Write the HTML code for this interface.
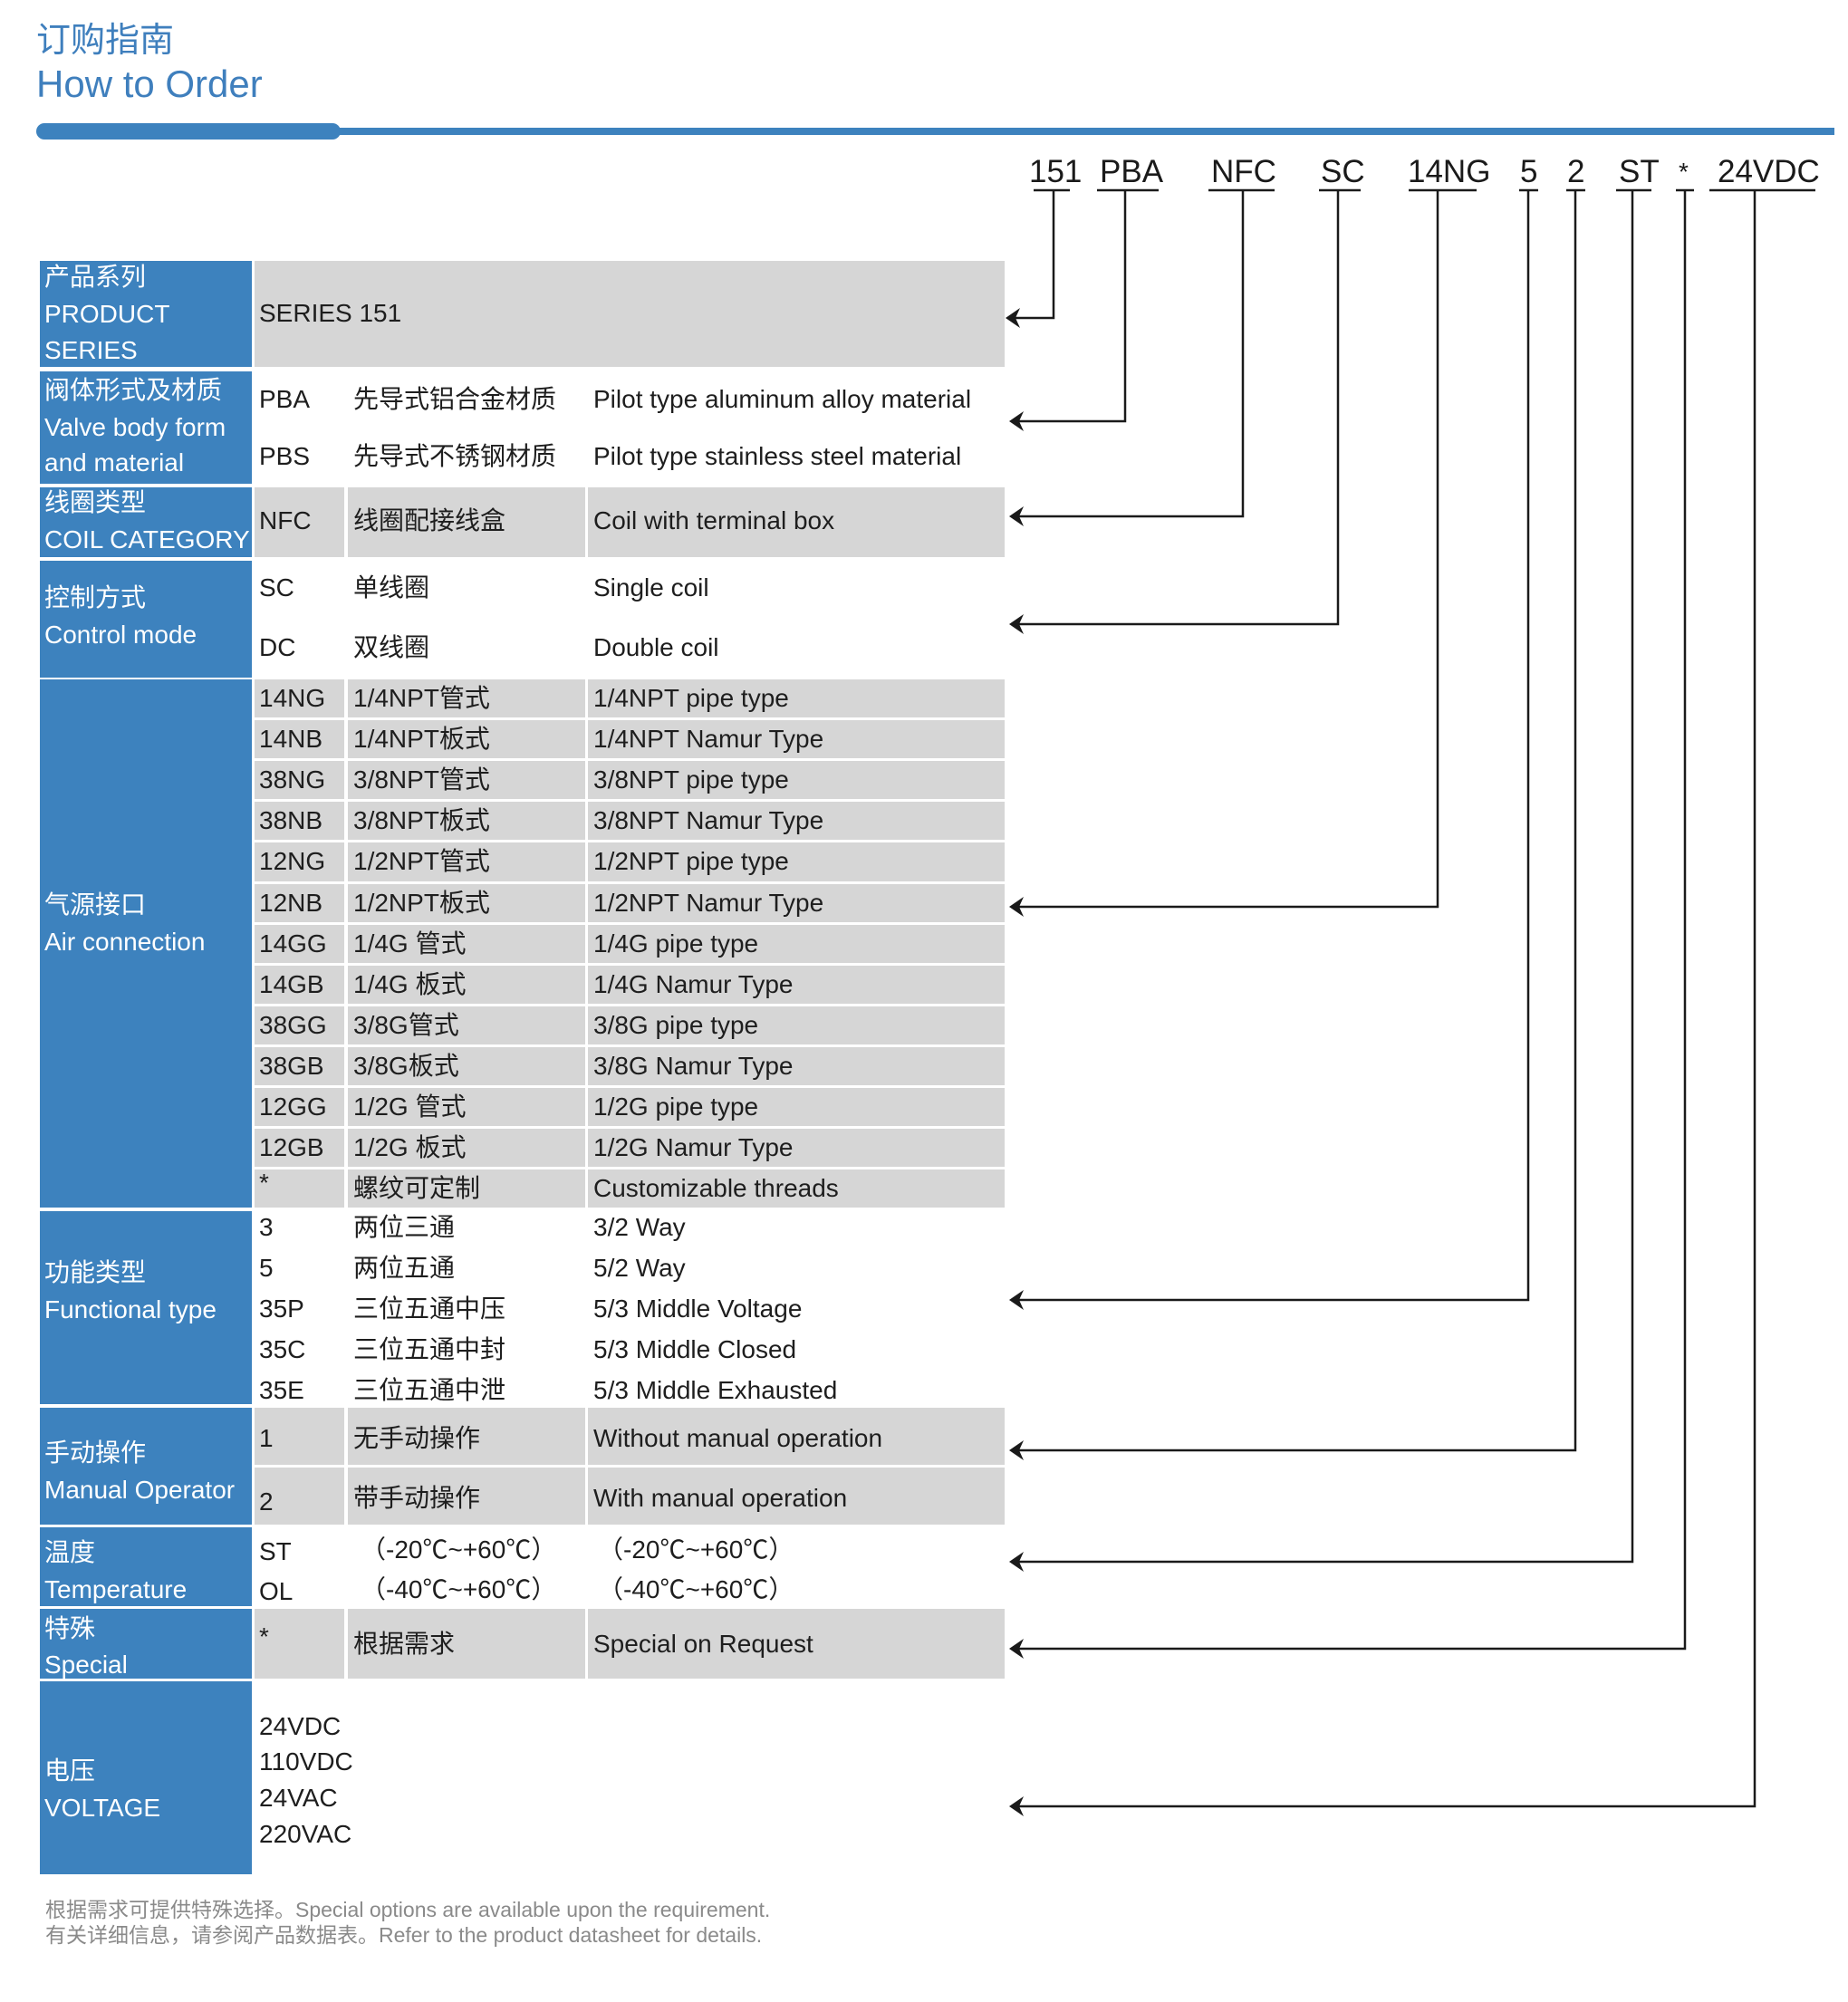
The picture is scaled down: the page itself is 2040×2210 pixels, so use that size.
<!DOCTYPE html>
<html><head><meta charset="utf-8"><style>
body{margin:0;width:2040px;height:2210px;background:#fff;position:relative;overflow:hidden;font-family:"Liberation Sans","Noto Sans CJK SC",sans-serif}
.b{position:absolute;background:#3d82be;left:44px;width:234px}
.g{position:absolute;background:#d6d6d6}
.t{position:absolute;font-size:28px;line-height:40px;height:40px;white-space:nowrap;color:#1e1e1e}
.w{color:#fff}
.c{position:absolute;font-size:35px;line-height:40px;top:170px;color:#1a1a1a;white-space:nowrap}
</style></head><body>
<div style="position:absolute;left:40px;top:22px;font-size:38px;line-height:46px;color:#3f7fbd">订购指南</div>
<div style="position:absolute;left:40px;top:68px;font-size:42px;line-height:50px;color:#3f7fbd">How to Order</div>
<div style="position:absolute;left:40px;top:136px;width:336px;height:18px;background:#3d82be;border-radius:9px"></div>
<div style="position:absolute;left:360px;top:141px;width:1665px;height:8px;background:#3d82be"></div>

<div class="c" style="left:1136px">151</div>
<div class="c" style="left:1214px">PBA</div>
<div class="c" style="left:1337px">NFC</div>
<div class="c" style="left:1458px">SC</div>
<div class="c" style="left:1554px">14NG</div>
<div class="c" style="left:1678px">5</div>
<div class="c" style="left:1730px">2</div>
<div class="c" style="left:1787px">ST</div>
<div class="c" style="left:1853px;font-size:28px">*</div>
<div class="c" style="left:1896px">24VDC</div>

<div class="b" style="top:288px;height:117px"></div>
<div class="b" style="top:410px;height:124px"></div>
<div class="b" style="top:538px;height:77px"></div>
<div class="b" style="top:619px;height:129px"></div>
<div class="b" style="top:750px;height:583px"></div>
<div class="b" style="top:1337px;height:213px"></div>
<div class="b" style="top:1554px;height:129px"></div>
<div class="b" style="top:1686px;height:87px"></div>
<div class="b" style="top:1776px;height:77px"></div>
<div class="b" style="top:1856px;height:213px"></div>

<div class="t w" style="left:49px;top:286px">产品系列</div>
<div class="t w" style="left:49px;top:327px">PRODUCT</div>
<div class="t w" style="left:49px;top:367px">SERIES</div>
<div class="t w" style="left:49px;top:411px">阀体形式及材质</div>
<div class="t w" style="left:49px;top:452px">Valve body form</div>
<div class="t w" style="left:49px;top:491px">and material</div>
<div class="t w" style="left:49px;top:535px">线圈类型</div>
<div class="t w" style="left:49px;top:576px">COIL CATEGORY</div>
<div class="t w" style="left:49px;top:640px">控制方式</div>
<div class="t w" style="left:49px;top:681px">Control mode</div>
<div class="t w" style="left:49px;top:979px">气源接口</div>
<div class="t w" style="left:49px;top:1020px">Air connection</div>
<div class="t w" style="left:49px;top:1385px">功能类型</div>
<div class="t w" style="left:49px;top:1426px">Functional type</div>
<div class="t w" style="left:49px;top:1584px">手动操作</div>
<div class="t w" style="left:49px;top:1625px">Manual Operator</div>
<div class="t w" style="left:49px;top:1694px">温度</div>
<div class="t w" style="left:49px;top:1735px">Temperature</div>
<div class="t w" style="left:49px;top:1778px">特殊</div>
<div class="t w" style="left:49px;top:1818px">Special</div>
<div class="t w" style="left:49px;top:1935px">电压</div>
<div class="t w" style="left:49px;top:1976px">VOLTAGE</div>

<div class="g" style="left:281px;top:288px;width:828px;height:117px"></div>
<div class="t" style="left:286px;top:326px">SERIES 151</div>
<div class="t" style="left:286px;top:421px">PBA</div>
<div class="t" style="left:390px;top:421px">先导式铝合金材质</div>
<div class="t" style="left:655px;top:421px">Pilot type aluminum alloy material</div>
<div class="t" style="left:286px;top:484px">PBS</div>
<div class="t" style="left:390px;top:484px">先导式不锈钢材质</div>
<div class="t" style="left:655px;top:484px">Pilot type stainless steel material</div>
<div class="g" style="left:281px;top:538px;width:99px;height:77px"></div>
<div class="g" style="left:384px;top:538px;width:262px;height:77px"></div>
<div class="g" style="left:649px;top:538px;width:460px;height:77px"></div>
<div class="t" style="left:286px;top:555px">NFC</div>
<div class="t" style="left:390px;top:555px">线圈配接线盒</div>
<div class="t" style="left:655px;top:555px">Coil with terminal box</div>
<div class="t" style="left:286px;top:629px">SC</div>
<div class="t" style="left:390px;top:629px">单线圈</div>
<div class="t" style="left:655px;top:629px">Single coil</div>
<div class="t" style="left:286px;top:695px">DC</div>
<div class="t" style="left:390px;top:695px">双线圈</div>
<div class="t" style="left:655px;top:695px">Double coil</div>

<div class="g" style="left:281px;top:750px;width:99px;height:42px"></div><div class="g" style="left:384px;top:750px;width:262px;height:42px"></div><div class="g" style="left:649px;top:750px;width:460px;height:42px"></div>
<div class="t" style="left:286px;top:751px">14NG</div><div class="t" style="left:390px;top:751px">1/4NPT管式</div><div class="t" style="left:655px;top:751px">1/4NPT pipe type</div>
<div class="g" style="left:281px;top:795px;width:99px;height:42px"></div><div class="g" style="left:384px;top:795px;width:262px;height:42px"></div><div class="g" style="left:649px;top:795px;width:460px;height:42px"></div>
<div class="t" style="left:286px;top:796px">14NB</div><div class="t" style="left:390px;top:796px">1/4NPT板式</div><div class="t" style="left:655px;top:796px">1/4NPT Namur Type</div>
<div class="g" style="left:281px;top:840px;width:99px;height:42px"></div><div class="g" style="left:384px;top:840px;width:262px;height:42px"></div><div class="g" style="left:649px;top:840px;width:460px;height:42px"></div>
<div class="t" style="left:286px;top:841px">38NG</div><div class="t" style="left:390px;top:841px">3/8NPT管式</div><div class="t" style="left:655px;top:841px">3/8NPT pipe type</div>
<div class="g" style="left:281px;top:885px;width:99px;height:42px"></div><div class="g" style="left:384px;top:885px;width:262px;height:42px"></div><div class="g" style="left:649px;top:885px;width:460px;height:42px"></div>
<div class="t" style="left:286px;top:886px">38NB</div><div class="t" style="left:390px;top:886px">3/8NPT板式</div><div class="t" style="left:655px;top:886px">3/8NPT Namur Type</div>
<div class="g" style="left:281px;top:930px;width:99px;height:43px"></div><div class="g" style="left:384px;top:930px;width:262px;height:43px"></div><div class="g" style="left:649px;top:930px;width:460px;height:43px"></div>
<div class="t" style="left:286px;top:931px">12NG</div><div class="t" style="left:390px;top:931px">1/2NPT管式</div><div class="t" style="left:655px;top:931px">1/2NPT pipe type</div>
<div class="g" style="left:281px;top:976px;width:99px;height:42px"></div><div class="g" style="left:384px;top:976px;width:262px;height:42px"></div><div class="g" style="left:649px;top:976px;width:460px;height:42px"></div>
<div class="t" style="left:286px;top:977px">12NB</div><div class="t" style="left:390px;top:977px">1/2NPT板式</div><div class="t" style="left:655px;top:977px">1/2NPT Namur Type</div>
<div class="g" style="left:281px;top:1021px;width:99px;height:42px"></div><div class="g" style="left:384px;top:1021px;width:262px;height:42px"></div><div class="g" style="left:649px;top:1021px;width:460px;height:42px"></div>
<div class="t" style="left:286px;top:1022px">14GG</div><div class="t" style="left:390px;top:1022px">1/4G 管式</div><div class="t" style="left:655px;top:1022px">1/4G pipe type</div>
<div class="g" style="left:281px;top:1066px;width:99px;height:42px"></div><div class="g" style="left:384px;top:1066px;width:262px;height:42px"></div><div class="g" style="left:649px;top:1066px;width:460px;height:42px"></div>
<div class="t" style="left:286px;top:1067px">14GB</div><div class="t" style="left:390px;top:1067px">1/4G 板式</div><div class="t" style="left:655px;top:1067px">1/4G Namur Type</div>
<div class="g" style="left:281px;top:1111px;width:99px;height:42px"></div><div class="g" style="left:384px;top:1111px;width:262px;height:42px"></div><div class="g" style="left:649px;top:1111px;width:460px;height:42px"></div>
<div class="t" style="left:286px;top:1112px">38GG</div><div class="t" style="left:390px;top:1112px">3/8G管式</div><div class="t" style="left:655px;top:1112px">3/8G pipe type</div>
<div class="g" style="left:281px;top:1156px;width:99px;height:42px"></div><div class="g" style="left:384px;top:1156px;width:262px;height:42px"></div><div class="g" style="left:649px;top:1156px;width:460px;height:42px"></div>
<div class="t" style="left:286px;top:1157px">38GB</div><div class="t" style="left:390px;top:1157px">3/8G板式</div><div class="t" style="left:655px;top:1157px">3/8G Namur Type</div>
<div class="g" style="left:281px;top:1201px;width:99px;height:42px"></div><div class="g" style="left:384px;top:1201px;width:262px;height:42px"></div><div class="g" style="left:649px;top:1201px;width:460px;height:42px"></div>
<div class="t" style="left:286px;top:1202px">12GG</div><div class="t" style="left:390px;top:1202px">1/2G 管式</div><div class="t" style="left:655px;top:1202px">1/2G pipe type</div>
<div class="g" style="left:281px;top:1246px;width:99px;height:42px"></div><div class="g" style="left:384px;top:1246px;width:262px;height:42px"></div><div class="g" style="left:649px;top:1246px;width:460px;height:42px"></div>
<div class="t" style="left:286px;top:1247px">12GB</div><div class="t" style="left:390px;top:1247px">1/2G 板式</div><div class="t" style="left:655px;top:1247px">1/2G Namur Type</div>
<div class="g" style="left:281px;top:1291px;width:99px;height:42px"></div><div class="g" style="left:384px;top:1291px;width:262px;height:42px"></div><div class="g" style="left:649px;top:1291px;width:460px;height:42px"></div>
<div class="t" style="left:286px;top:1286px">*</div><div class="t" style="left:390px;top:1292px">螺纹可定制</div><div class="t" style="left:655px;top:1292px">Customizable threads</div>

<div class="t" style="left:286px;top:1335px">3</div><div class="t" style="left:390px;top:1335px">两位三通</div><div class="t" style="left:655px;top:1335px">3/2 Way</div>
<div class="t" style="left:286px;top:1380px">5</div><div class="t" style="left:390px;top:1380px">两位五通</div><div class="t" style="left:655px;top:1380px">5/2 Way</div>
<div class="t" style="left:286px;top:1425px">35P</div><div class="t" style="left:390px;top:1425px">三位五通中压</div><div class="t" style="left:655px;top:1425px">5/3 Middle Voltage</div>
<div class="t" style="left:286px;top:1470px">35C</div><div class="t" style="left:390px;top:1470px">三位五通中封</div><div class="t" style="left:655px;top:1470px">5/3 Middle Closed</div>
<div class="t" style="left:286px;top:1515px">35E</div><div class="t" style="left:390px;top:1515px">三位五通中泄</div><div class="t" style="left:655px;top:1515px">5/3 Middle Exhausted</div>

<div class="g" style="left:281px;top:1554px;width:99px;height:63px"></div><div class="g" style="left:384px;top:1554px;width:262px;height:63px"></div><div class="g" style="left:649px;top:1554px;width:460px;height:63px"></div>
<div class="g" style="left:281px;top:1620px;width:99px;height:63px"></div><div class="g" style="left:384px;top:1620px;width:262px;height:63px"></div><div class="g" style="left:649px;top:1620px;width:460px;height:63px"></div>
<div class="t" style="left:286px;top:1568px">1</div><div class="t" style="left:390px;top:1568px">无手动操作</div><div class="t" style="left:655px;top:1568px">Without manual operation</div>
<div class="t" style="left:286px;top:1638px">2</div><div class="t" style="left:390px;top:1634px">带手动操作</div><div class="t" style="left:655px;top:1634px">With manual operation</div>

<div class="t" style="left:286px;top:1693px">ST</div><div class="t" style="left:398px;top:1691px">（-20℃~+60℃）</div><div class="t" style="left:660px;top:1691px">（-20℃~+60℃）</div>
<div class="t" style="left:286px;top:1737px">OL</div><div class="t" style="left:398px;top:1735px">（-40℃~+60℃）</div><div class="t" style="left:660px;top:1735px">（-40℃~+60℃）</div>

<div class="g" style="left:281px;top:1776px;width:99px;height:77px"></div><div class="g" style="left:384px;top:1776px;width:262px;height:77px"></div><div class="g" style="left:649px;top:1776px;width:460px;height:77px"></div>
<div class="t" style="left:286px;top:1787px">*</div><div class="t" style="left:390px;top:1795px">根据需求</div><div class="t" style="left:655px;top:1795px">Special on Request</div>

<div class="t" style="left:286px;top:1886px">24VDC</div>
<div class="t" style="left:286px;top:1925px">110VDC</div>
<div class="t" style="left:286px;top:1965px">24VAC</div>
<div class="t" style="left:286px;top:2005px">220VAC</div>

<div class="t" style="left:50px;top:2094px;font-size:23px;line-height:28px;color:#8a8a8a">根据需求可提供特殊选择。Special options are available upon the requirement.</div>
<div class="t" style="left:50px;top:2122px;font-size:23px;line-height:28px;color:#8a8a8a">有关详细信息，请参阅产品数据表。Refer to the product datasheet for details.</div>

<svg width="2040" height="2210" style="position:absolute;left:0;top:0" xmlns="http://www.w3.org/2000/svg">
<g stroke="#1a1a1a" stroke-width="2.5" fill="none">
<path d="M1141 210H1181M1163 210V351H1116"/>
<path d="M1211 210H1279M1242 210V465H1120"/>
<path d="M1334 210H1407M1372 210V570H1120"/>
<path d="M1456 210H1502M1477 210V689H1120"/>
<path d="M1555 210H1630M1587 210V1001H1120"/>
<path d="M1677 210H1698M1687 210V1435H1120"/>
<path d="M1729 210H1750M1739 210V1601H1120"/>
<path d="M1784 210H1823M1802 210V1724H1120"/>
<path d="M1850 210H1870M1860 210V1820H1120"/>
<path d="M1887 210H2004M1937 210V1994H1120"/>
</g>
<g fill="#1a1a1a">
<path d="M1110 351l16-11-5 11 5 11z"/>
<path d="M1114 465l16-11-5 11 5 11z"/>
<path d="M1114 570l16-11-5 11 5 11z"/>
<path d="M1114 689l16-11-5 11 5 11z"/>
<path d="M1114 1001l16-11-5 11 5 11z"/>
<path d="M1114 1435l16-11-5 11 5 11z"/>
<path d="M1114 1601l16-11-5 11 5 11z"/>
<path d="M1114 1724l16-11-5 11 5 11z"/>
<path d="M1114 1820l16-11-5 11 5 11z"/>
<path d="M1114 1994l16-11-5 11 5 11z"/>
</g>
</svg>
</body></html>
